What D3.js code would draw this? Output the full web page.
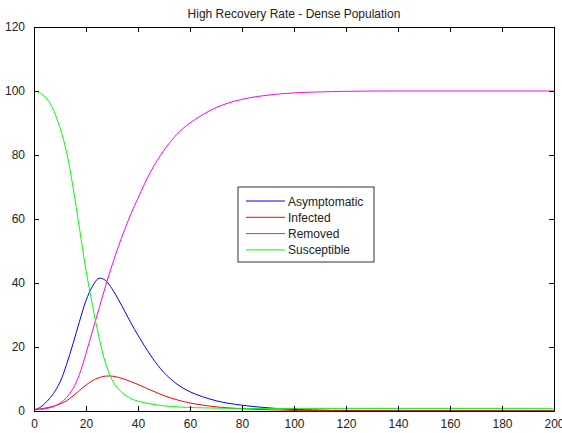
<!DOCTYPE html>
<html>
<head>
<meta charset="utf-8">
<script src="https://cdn.jsdelivr.net/npm/d3@7"></script>
<style>
  body { margin: 0; background: #fff; }
  text { font-family: "Liberation Sans", Arial, sans-serif; fill: #222; }
</style>
</head>
<body>
<script>
let width = 562, height = 433;
let margin = {top: 27, right: 8, bottom: 22, left: 34};

// time points
let times = [0, 2.5, 5, 7.5, 10, 12.5, 15, 17.5, 20, 22.5, 25, 27.5, 30, 32.5, 35, 37.5, 40,
             45, 50, 55, 60, 70, 80, 90, 100, 120, 140, 160, 180, 200];
let asymptomatic = [0.3, 1.2, 3, 5.5, 9, 14.5, 21, 28, 34.5, 39, 41.5, 40.8, 38.2, 34.8, 31, 27.2, 23.7,
                    17.2, 12, 8.4, 6, 3.2, 1.8, 1, 0.5, 0.15, 0.05, 0.05, 0.05, 0.05];
let infected = [0.5, 0.7, 1, 1.5, 2.2, 3.2, 4.7, 6.4, 8.1, 9.5, 10.4, 10.9, 10.9, 10.5, 9.9, 9.1, 8.3,
                6.5, 4.8, 3.5, 2.5, 1.3, 0.7, 0.4, 0.2, 0.1, 0.05, 0.05, 0.05, 0.05];
let removed = [0.3, 0.5, 0.8, 1.4, 2.4, 4.2, 7, 11.5, 18, 25, 32, 39, 45.5, 51.5, 57, 62, 66.5,
               75, 81.5, 86.5, 90, 94.8, 97.4, 98.7, 99.4, 99.9, 100, 100, 100, 100];
let susceptible = [100, 99.3, 97.5, 94, 88.5, 81, 70, 57, 44, 33, 23, 15, 9.8, 6.8, 5, 3.8, 3.1,
                   2.2, 1.6, 1.3, 1.1, 0.9, 0.8, 0.8, 0.8, 0.8, 0.8, 0.8, 0.8, 0.8];

let seriesNames = ["Asymptomatic", "Infected", "Removed", "Susceptible"];
let seriesData = [asymptomatic, infected, removed, susceptible];
let colors = ["#0000ff", "#ff0000", "#ff00ff", "#00ff00"];
let xTicks = d3.range(0, 201, 20);
let yTicks = d3.range(0, 121, 20);

let svg = d3.select("body").append("svg").attr("width", width).attr("height", height);

let x = d3.scaleLinear().domain([0, 200]).range([margin.left, width - margin.right]);
let y = d3.scaleLinear().domain([0, 120]).range([height - margin.bottom, margin.top]);

svg.append("text").attr("x", (x(0) + x(200)) / 2).attr("y", 18)
  .attr("text-anchor", "middle").style("font-size", "12px")
  .text("High Recovery Rate - Dense Population");

let line = d3.line().x((d, i) => x(times[i])).y(d => y(d)).curve(d3.curveCatmullRom.alpha(0.5));

let plot = svg.append("g");
seriesData.forEach((s, k) => {
  plot.append("path").datum(s).attr("d", line)
    .attr("fill", "none").attr("stroke", colors[k]).attr("stroke-width", 1);
});

// axes, matlab style: ticks inward on all four sides
let bottomAx = svg.append("g").attr("transform", `translate(0,${y(0)})`)
  .call(d3.axisBottom(x).tickValues(xTicks).tickSizeInner(-5).tickSizeOuter(0).tickPadding(8));
let topAx = svg.append("g").attr("transform", `translate(0,${y(120)})`)
  .call(d3.axisTop(x).tickValues(xTicks).tickSizeInner(-5).tickSizeOuter(0).tickFormat(""));
let leftAx = svg.append("g").attr("transform", `translate(${x(0)},0)`)
  .call(d3.axisLeft(y).tickValues(yTicks).tickSizeInner(-5).tickSizeOuter(0).tickPadding(9));
let rightAx = svg.append("g").attr("transform", `translate(${x(200)},0)`)
  .call(d3.axisRight(y).tickValues(yTicks).tickSizeInner(-5).tickSizeOuter(0).tickFormat(""));

[bottomAx, topAx, leftAx, rightAx].forEach(g => {
  g.select(".domain").attr("stroke", "#000");
  g.selectAll(".tick line").attr("stroke", "#000");
  g.selectAll("text").style("font-size", "12px").attr("fill", "#222")
    .style("font-family", "'Liberation Sans', Arial, sans-serif");
});

// legend
let lg = svg.append("g").attr("transform", "translate(238,187)");
lg.append("rect").attr("width", 136).attr("height", 75)
  .attr("fill", "#fff").attr("stroke", "#333").attr("stroke-width", 1);
seriesNames.forEach((n, k) => {
  let yy = 14 + k * 16.3;
  lg.append("line").attr("x1", 8).attr("x2", 47).attr("y1", yy).attr("y2", yy)
    .attr("stroke", colors[k]);
  lg.append("text").attr("x", 50).attr("y", yy + 4.5).style("font-size", "12px").text(n);
});
</script>
</body>
</html>
